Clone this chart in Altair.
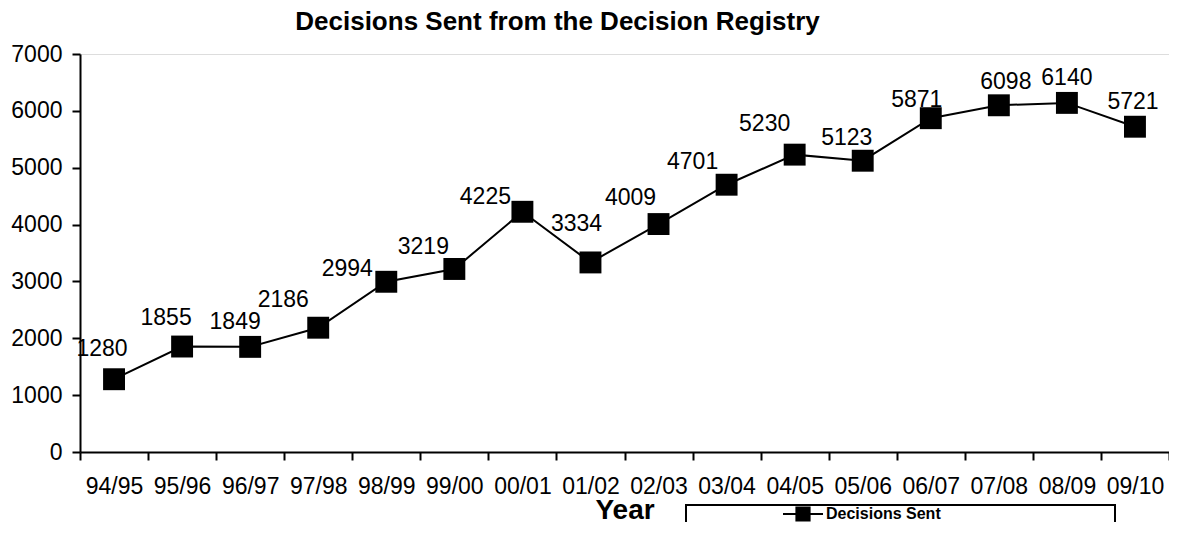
import altair as alt
import pandas as pd

years = ["94/95", "95/96", "96/97", "97/98", "98/99", "99/00", "00/01", "01/02",
         "02/03", "03/04", "04/05", "05/06", "06/07", "07/08", "08/09", "09/10"]
decisions = [1280, 1855, 1849, 2186, 2994, 3219, 4225, 3334,
             4009, 4701, 5230, 5123, 5871, 6098, 6140, 5721]
series_name = "Decisions Sent"

df = pd.DataFrame({"year": years, "value": decisions, "series": series_name})

FONT = "Liberation Sans"
W, H = 1089, 398

# label nudges (dx, dy) as placed in the original chart
label_nudge = {
    "94/95": (-12, -30), "95/96": (-16, -29), "96/97": (-15, -25), "97/98": (-35, -28),
    "98/99": (-39, -13), "99/00": (-31, -22), "00/01": (-37, -15), "01/02": (-14, -38),
    "02/03": (-28, -26), "03/04": (-34, -23), "04/05": (-30, -31), "05/06": (-16, -23),
    "06/07": (-14, -18), "07/08": (7, -23), "08/09": (0, -25), "09/10": (-2, -25),
}

x_enc = alt.X("year:N", sort=years,
              scale=alt.Scale(paddingInner=0, paddingOuter=0),
              axis=alt.Axis(title="Year", titleFont=FONT, titleFontSize=28, titleFontWeight="bold",
                            titleColor="black", titleY=58, titleBaseline="middle",
                            labelFont=FONT, labelFontSize=23, labelColor="black", labelAngle=0,
                            labelPadding=15, tickSize=8, tickWidth=2, tickColor="black",
                            tickBand="extent", domainColor="black", domainWidth=2,
                            grid=False, labelOverlap=False))
y_enc = alt.Y("value:Q",
              scale=alt.Scale(domain=[0, 7000], nice=False),
              axis=alt.Axis(title=None, values=list(range(0, 7001, 1000)), format="d",
                            labelFont=FONT, labelFontSize=23, labelColor="black",
                            labelPadding=10, tickSize=8, tickWidth=2, tickColor="black",
                            domainColor="black", domainWidth=2, grid=False))

base = alt.Chart(df)

line = base.mark_line(color="black", strokeWidth=2).encode(x=x_enc, y=y_enc)

points = base.mark_point(shape="square", filled=True, size=480, opacity=1).encode(
    x=x_enc, y=y_enc,
    color=alt.Color("series:N", scale=alt.Scale(range=["black"]),
                    legend=alt.Legend(title=None, orient="none", legendX=702, legendY=439,
                                      symbolType="M-1,0H1M-0.33,-0.33H0.33V0.33H-0.33Z",
                                      symbolSize=1600, symbolFillColor="black",
                                      symbolStrokeColor="black", symbolStrokeWidth=2,
                                      labelFont=FONT, labelFontSize=16, labelFontWeight="bold",
                                      labelColor="black", labelOffset=2, padding=0)))

labels = []
for yr, (ddx, ddy) in label_nudge.items():
    labels.append(
        base.transform_filter(alt.datum.year == yr).mark_text(
            font=FONT, fontSize=23, color="black", dx=ddx, dy=ddy, baseline="middle"
        ).encode(x=x_enc, y=y_enc, text="value:Q")
    )

legend_box = base.mark_rect(fill="white", stroke="black", strokeWidth=2).encode(
    x=alt.value(606), x2=alt.value(1035), y=alt.value(451), y2=alt.value(600)
).transform_filter(alt.datum.year == years[0])

chart = alt.layer(legend_box, line, points, *labels).properties(
    width=W, height=H,
    title=alt.TitleParams("Decisions Sent from the Decision Registry", font=FONT, fontSize=26,
                          fontWeight="bold", color="black", anchor="middle", dx=-67, offset=8),
    autosize=alt.AutoSizeParams(type="none"),
    padding={"left": 72, "top": 46, "right": 0, "bottom": 70},
).configure_view(stroke="black", strokeWidth=2).configure(background="white")

chart.save("out.html", embed_options={"renderer": "svg", "actions": False})
